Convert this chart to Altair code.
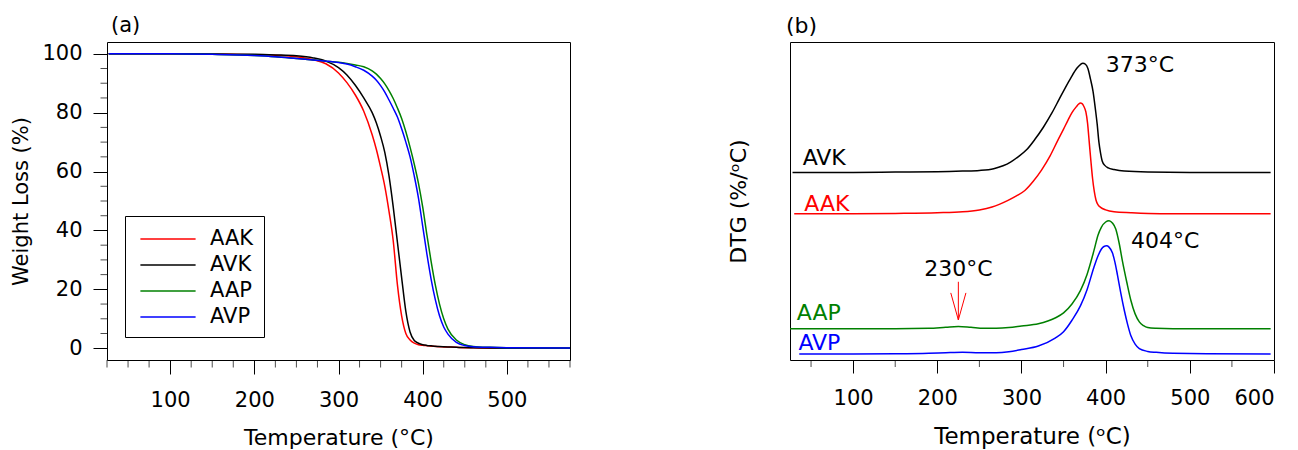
import altair as alt
import pandas as pd

FONT = "DejaVu Sans"
series = ["AAK", "AVK", "AAP", "AVP"]
colors = ["#ff0000", "#000000", "#008000", "#0000ff"]

# ---------------- (a) TGA ----------------
tga_T = [27, 100, 150, 200, 225, 250, 270, 285, 300, 310, 320, 330, 340, 345, 350, 355, 360, 365, 370, 375,
         380, 385, 390, 395, 400, 405, 410, 415, 420, 425, 430, 440, 450, 460, 480, 500, 575]
tga_aak = [100, 100, 99.9, 99.7, 99.5, 99.0, 98.0, 96.6, 93.5, 90.2, 86, 80.5, 72.5, 67.5, 61.5, 55, 46.5, 36.5, 21.5, 11,
           5, 2.8, 1.7, 1.2, 1.0, 0.85, 0.7, 0.6, 0.5, 0.45, 0.4, 0.3, 0.2, 0.15, 0.05, 0, 0]
tga_avk = [100, 100, 99.9, 99.8, 99.6, 99.3, 98.6, 97.5, 95.3, 92.8, 89.3, 85, 80, 76.5, 72, 66.5, 58.5, 48, 36, 24,
           12.5, 5.5, 2.6, 1.7, 1.2, 0.95, 0.8, 0.65, 0.55, 0.48, 0.42, 0.32, 0.22, 0.16, 0.06, 0, 0]
tga_aap = [100, 100, 99.8, 99.4, 99.0, 98.4, 97.9, 97.5, 97.1, 96.7, 96.2, 95.6, 94.2, 93.1, 91.6, 89.8, 87.5, 84.8, 81.6, 78,
           73.5, 68.3, 62.5, 56, 48, 38.5, 29.5, 21.5, 15, 10, 6.5, 2.8, 1.2, 0.6, 0.3, 0.2, 0.1]
tga_avp = [100, 100, 99.8, 99.4, 99.0, 98.4, 97.9, 97.5, 97.0, 96.5, 95.6, 94.4, 92.4, 91, 89.2, 87, 84.3, 81.5, 78.5, 74.5,
           70, 65, 58.5, 51, 41.5, 32, 23.5, 16.5, 11, 7.2, 4.8, 2.0, 0.9, 0.5, 0.3, 0.2, 0.1]

xa_major = [100, 200, 300, 400, 500]
xa_minor = [25, 50, 75, 125, 150, 175, 225, 250, 275, 325, 350, 375, 425, 450, 475, 525, 550, 575]
ya_major = [0, 20, 40, 60, 80, 100]
ya_minor = [5, 10, 15, 25, 30, 35, 45, 50, 55, 65, 70, 75, 85, 90, 95]

# ---------------- (b) DTG ----------------
aak_T = [30, 100, 150, 200, 230, 250, 265, 284, 294, 304, 314, 324, 334, 343, 350, 355, 360, 365, 368, 370,
         372, 374, 376.5, 378.5, 380.5, 382.5, 384.5, 386.5, 388.5, 391, 394, 400, 410, 430, 465, 596]
aak_y = [46.0, 46.0, 46.1, 46.3, 46.6, 47.2, 48.1, 50.2, 51.6, 53.3, 56.2, 59.8, 64.2, 69.0, 72.6, 75.3, 77.8, 79.6, 80.5, 80.8,
         80.6, 79.8, 78.0, 74.5, 68.5, 62.5, 57.0, 53.0, 50.3, 48.8, 48.0, 47.2, 46.6, 46.3, 46.0, 46.0]
avk_T = [28, 100, 150, 200, 230, 250, 267, 287, 296, 306, 316, 326, 336, 345, 352, 359, 366, 370, 373, 376,
         379, 382, 385, 388, 390, 392, 394, 396, 399, 403, 410, 422, 450, 500, 596]
avk_y = [59.0, 59.0, 59.1, 59.2, 59.4, 59.6, 60.15, 62.2, 63.9, 66.1, 69.4, 73.2, 77.6, 82.1, 85.6, 88.9, 91.8, 92.9, 93.3, 93.0,
         91.6, 88.3, 84.5, 78.5, 74, 68.5, 65, 62.5, 61.2, 60.4, 59.9, 59.4, 59.1, 59.0, 59.0]
aap_T = [25, 100, 150, 190, 210, 225, 240, 255, 270, 285, 300, 320, 340, 350, 360, 370, 378, 386, 391, 395,
         400, 404, 408, 412, 416, 420, 425, 430, 435, 440, 445, 450, 460, 480, 596]
aap_y = [9.8, 9.8, 9.85, 9.95, 10.3, 10.55, 10.3, 10.0, 10.0, 10.2, 10.7, 11.4, 13.2, 14.8, 17.6, 21.8, 27.0, 34.3, 39.3, 41.8,
         43.4, 43.8, 43.1, 41.2, 36.8, 31.0, 24.6, 18.7, 14.5, 12.0, 10.8, 10.2, 9.95, 9.8, 9.8]
avp_T = [36, 100, 150, 190, 210, 230, 250, 270, 285, 300, 320, 340, 350, 360, 370, 378, 386, 391, 395, 398,
         401, 404, 408, 411, 414, 418, 422, 426, 430, 435, 440, 450, 460, 480, 520, 596]
avp_y = [1.9, 1.9, 1.95, 2.1, 2.3, 2.45, 2.3, 2.3, 2.6, 3.3, 4.4, 6.9, 8.9, 12.5, 17.0, 22.2, 29.1, 32.8, 34.9, 35.7,
         35.9, 35.5, 33.7, 30.8, 26.8, 21.0, 15.8, 11.3, 7.6, 5.0, 3.6, 2.7, 2.4, 2.1, 2.0, 1.9]

xb_major = [100, 200, 300, 400, 500, 600]
xb_minor = [50, 150, 250, 350, 450, 550]

lab_text = ["AVK", "AAK", "AAP", "AVP", "373°C", "404°C"]
lab_T = [40, 42, 33, 35, 400, 430]
lab_y = [63.6, 49.2, 14.9, 5.4, 92.8, 37.5]
lab_color = ["#000000", "#ff0000", "#008000", "#0000ff", "#000000", "#000000"]
note_text = ["230°C"]
note_T = [225]
note_y = [28.6]
arrow_T = [225, 216, 234]
arrow_y = [24.6, 21.1, 21.1]
arrow_T2 = [225, 225, 225]
arrow_y2 = [12.6, 12.6, 12.6]

# ---------------- tables ----------------
tga = pd.DataFrame([
    {"T": t, "W": w, "s": name}
    for name, vals in zip(["AAK", "AVK", "AAP", "AVP"], [tga_aak, tga_avk, tga_aap, tga_avp])
    for t, w in zip(tga_T, vals)
])
dtg = pd.DataFrame([
    {"T": t, "D": d, "s": name}
    for name, TT, YY in [("AAK", aak_T, aak_y), ("AVK", avk_T, avk_y), ("AAP", aap_T, aap_y), ("AVP", avp_T, avp_y)]
    for t, d in zip(TT, YY)
])
labs = pd.DataFrame({"text": lab_text, "T": lab_T, "D": lab_y, "c": lab_color})
notes = pd.DataFrame({"text": note_text, "T": note_T, "D": note_y})
arrow = pd.DataFrame({"T": arrow_T, "D": arrow_y, "T2": arrow_T2, "D2": arrow_y2})

WA, HA = 463, 318
WB, HB = 484, 318

# ---------------- panel (a) ----------------
xsa = alt.Scale(domain=[25, 575], nice=False, zero=False)
ysa = alt.Scale(domain=[-4, 104], nice=False, zero=False)
xaxa = alt.Axis(values=xa_major, tickSize=14, labelPadding=15, title="Temperature (°C)",
                titlePadding=17, labelFontSize=21, titleFontSize=22)
yaxa = alt.Axis(values=ya_major, tickSize=14, labelPadding=11, title="Weight Loss (%)",
                titlePadding=10, labelFontSize=21, titleFontSize=21)

lines_a = alt.Chart(tga).mark_line(strokeWidth=1.5, interpolate="monotone").encode(
    x=alt.X("T:Q", scale=xsa, axis=xaxa),
    y=alt.Y("W:Q", scale=ysa, axis=yaxa),
    color=alt.Color("s:N", scale=alt.Scale(domain=series, range=colors),
                    legend=alt.Legend(title=None, orient="none", legendX=18, legendY=174,
                                      strokeColor="black", fillColor="white", padding=10,
                                      symbolType="M-2.3,0L2.3,0", symbolSize=576,
                                      symbolStrokeWidth=1.5, symbolOffset=20, labelOffset=29,
                                      rowPadding=3, labelFontSize=21, labelFont=FONT,
                                      labelColor="black")),
    detail="s:N",
)

xminor_a = alt.Chart(pd.DataFrame({"T": xa_minor})).mark_tick(
    orient="vertical", size=7.5, thickness=1, color="black").encode(
    x=alt.X("T:Q", scale=xsa, axis=xaxa), y=alt.value(HA + 3.75))
yminor_a = alt.Chart(pd.DataFrame({"W": ya_minor})).mark_tick(
    orient="horizontal", size=6.5, thickness=1, color="black").encode(
    y=alt.Y("W:Q", scale=ysa, axis=yaxa), x=alt.value(-3.25))

panel_a = alt.layer(lines_a, xminor_a, yminor_a).properties(
    width=WA, height=HA,
    title=alt.TitleParams("(a)", anchor="start", frame="group", fontSize=21, font=FONT,
                          fontWeight="normal", offset=6, dx=4, color="black"))

# ---------------- panel (b) ----------------
xsb = alt.Scale(domain=[25, 600], nice=False, zero=False)
ysb = alt.Scale(domain=[0, 100], nice=False, zero=False)
xaxb = alt.Axis(values=xb_major, tickSize=13, labelPadding=14, title="Temperature (ᵒC)",
                titlePadding=17, labelFontSize=21, titleFontSize=23)
yaxb = alt.Axis(title="DTG (%/ᵒC)", labels=False, ticks=False, domain=False, titlePadding=40,
                titleFontSize=22)

lines_b = alt.Chart(dtg).mark_line(strokeWidth=1.5, interpolate="monotone").encode(
    x=alt.X("T:Q", scale=xsb, axis=xaxb),
    y=alt.Y("D:Q", scale=ysb, axis=yaxb),
    color=alt.Color("s:N", scale=alt.Scale(domain=series, range=colors), legend=None),
    detail="s:N",
)
xminor_b = alt.Chart(pd.DataFrame({"T": xb_minor})).mark_tick(
    orient="vertical", size=7, thickness=1, color="black").encode(
    x=alt.X("T:Q", scale=xsb, axis=xaxb), y=alt.value(HB + 3.5))
text_b = alt.Chart(labs).mark_text(font=FONT, fontSize=22, align="left", baseline="middle").encode(
    x=alt.X("T:Q", scale=xsb, axis=xaxb), y=alt.Y("D:Q", scale=ysb, axis=yaxb), text="text:N",
    color=alt.Color("c:N", scale=None))
note_b = alt.Chart(notes).mark_text(font=FONT, fontSize=22, align="center", baseline="middle",
                                    color="black").encode(
    x=alt.X("T:Q", scale=xsb, axis=xaxb), y=alt.Y("D:Q", scale=ysb, axis=yaxb), text="text:N")
arrow_b = alt.Chart(arrow).mark_rule(color="#ff0000", strokeWidth=1).encode(
    x=alt.X("T:Q", scale=xsb, axis=xaxb), y=alt.Y("D:Q", scale=ysb, axis=yaxb),
    x2="T2:Q", y2="D2:Q")

panel_b = alt.layer(lines_b, xminor_b, arrow_b, text_b, note_b).properties(
    width=WB, height=HB,
    title=alt.TitleParams("(b)", anchor="start", frame="group", fontSize=22, font=FONT,
                          fontWeight="normal", offset=4, dx=-4, color="black"))

chart = alt.hconcat(panel_a, panel_b, spacing=152).resolve_scale(color="independent").properties(
    padding={"left": 2, "top": 6, "right": 0, "bottom": 0},
    background="white",
).configure_view(stroke="black", strokeWidth=1).configure_axis(
    labelFont=FONT, titleFont=FONT, labelColor="black", titleColor="black", tickColor="black",
    tickWidth=1, grid=False, domain=False, titleFontWeight="normal"
)

chart.save("out.html", embed_options={"renderer": "svg", "actions": False})
